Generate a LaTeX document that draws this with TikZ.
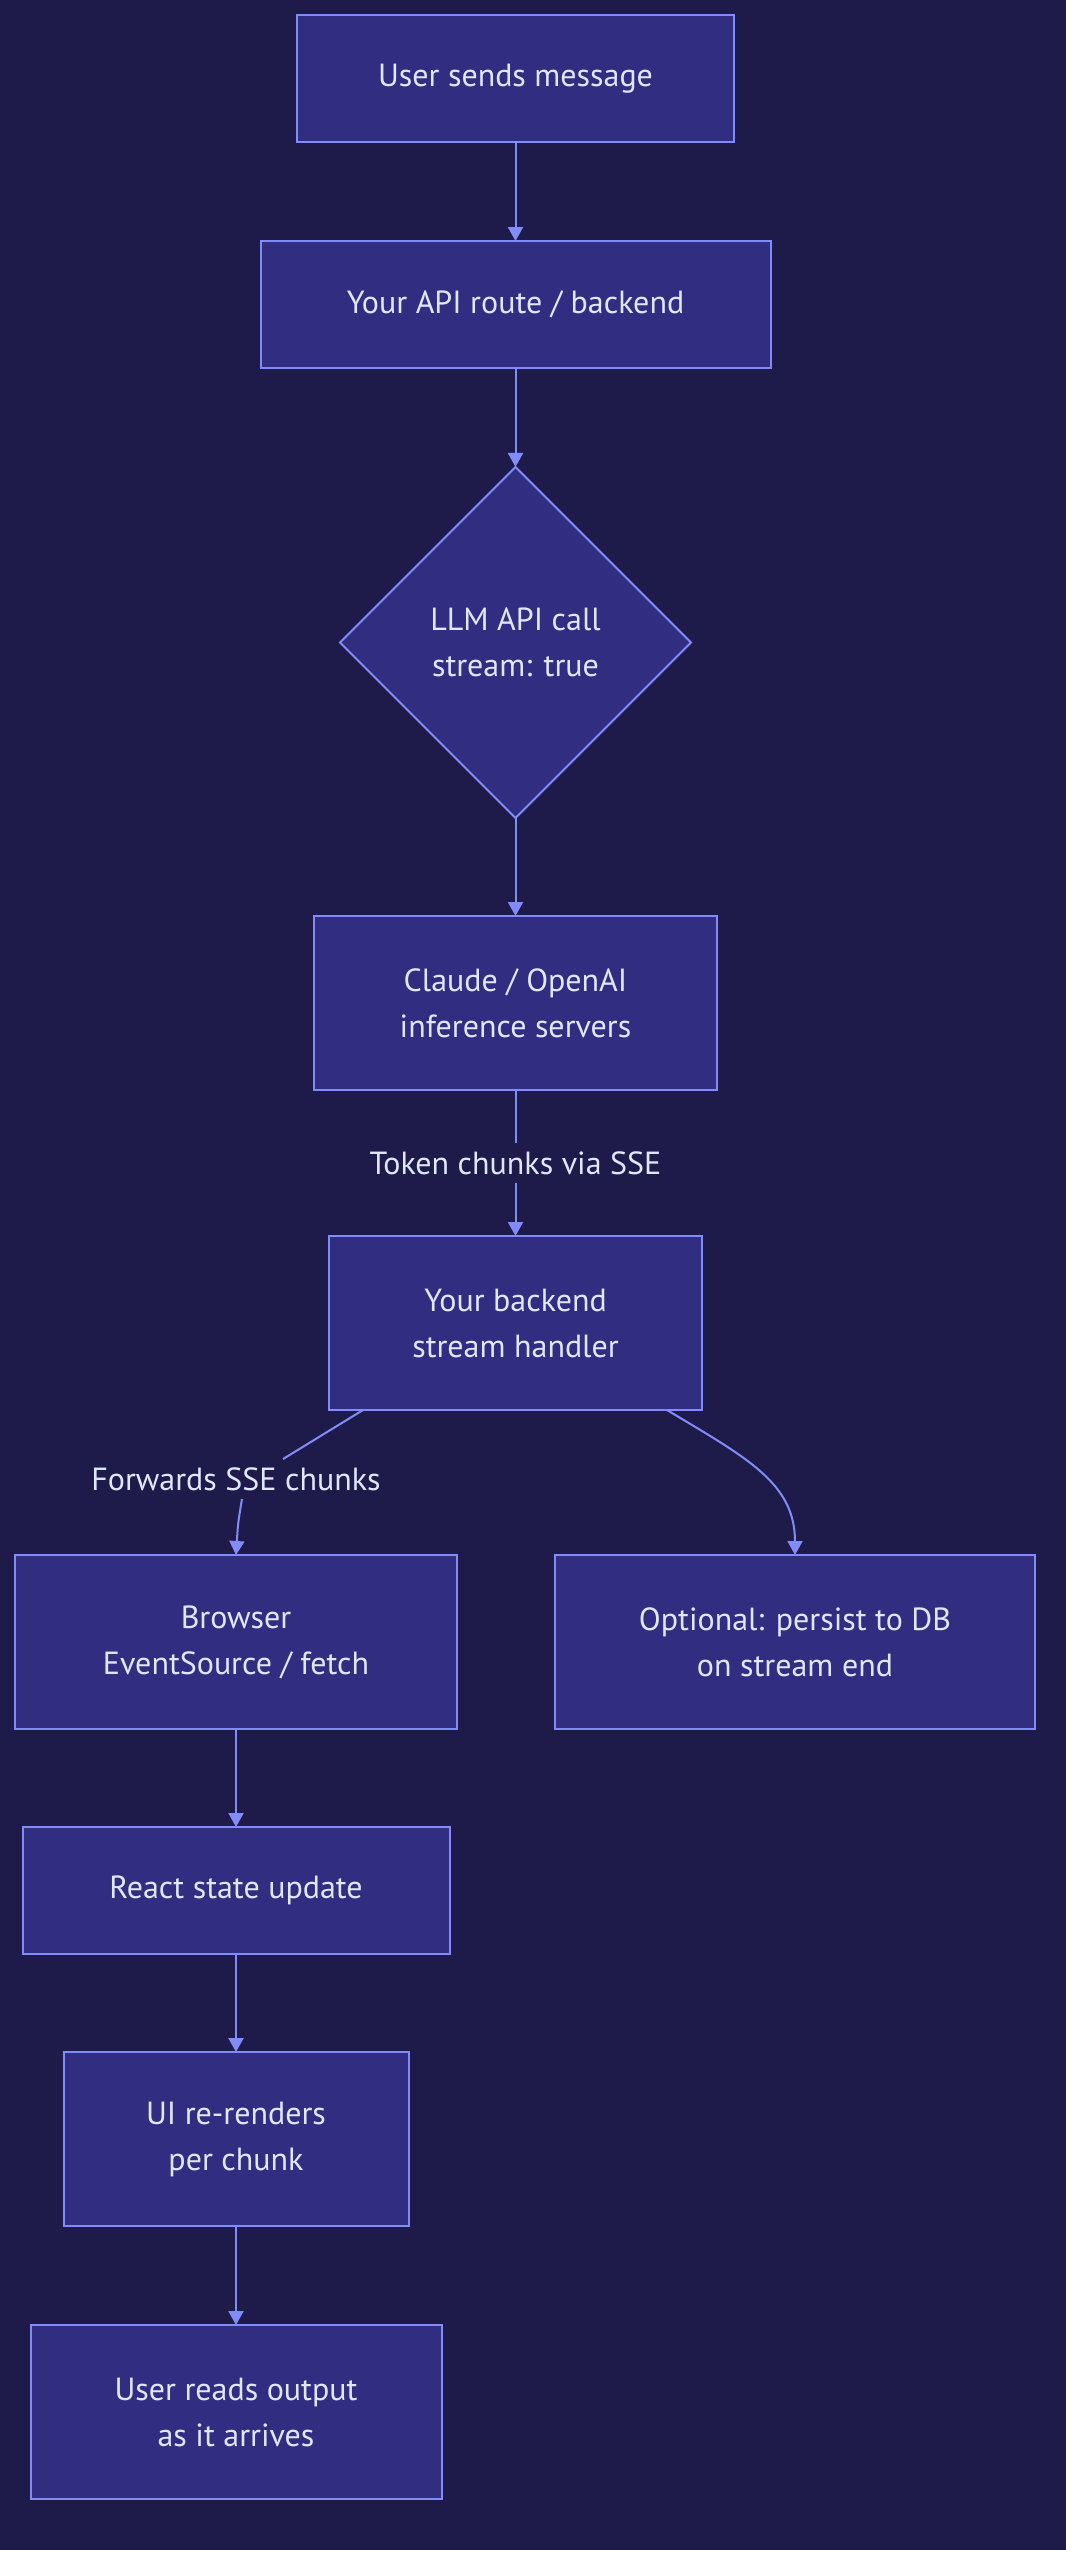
\documentclass[tikz,border=0pt]{standalone}
\usepackage{fontspec}
\setmainfont{PT Sans}
\usetikzlibrary{arrows.meta, positioning, calc, shapes.geometric}
\definecolor{NightBg}{HTML}{1E1B4B}
\definecolor{BoxFill}{HTML}{312E81}
\definecolor{BoxLine}{HTML}{818CF8}
\definecolor{PaleText}{HTML}{E0E7FF}
\tikzset{
  flowbox/.style={draw=BoxLine, line width=1pt, fill=BoxFill, align=center, minimum height=63.5pt, inner sep=4pt, outer sep=0pt, text=PaleText, font=\fontsize{16pt}{23pt}\selectfont},
  tallbox/.style={flowbox, minimum height=87pt},
  decision/.style={diamond, draw=BoxLine, line width=1pt, fill=BoxFill, align=center, minimum width=175.5pt, minimum height=175.5pt, inner sep=0pt, outer sep=0pt, text=PaleText, font=\fontsize{16pt}{23pt}\selectfont},
  edgelabel/.style={fill=NightBg, inner xsep=3pt, inner ysep=4pt, text=PaleText, font=\fontsize{16pt}{23pt}\selectfont},
  link/.style={line width=1pt, draw=BoxLine},
  arrow/.style={-{Triangle[length=7pt, width=7.5pt]}, line width=1pt, draw=BoxLine}
}
\begin{document}
\begin{tikzpicture}
\fill[NightBg] (0,0) rectangle (533pt,-1275pt);
\useasboundingbox (0,0) rectangle (533pt,-1275pt);
\node[flowbox, minimum width=218.5pt] (user) at (257.75pt,-39.25pt) {User sends message};
\node[flowbox, minimum width=255pt, below=49.5pt of user] (route) {Your API route / backend};
\node[decision, below=49.5pt of route] (llm) {LLM API call\\stream: true};
\node[tallbox, minimum width=201.5pt, below=49pt of llm] (infer) {Claude / OpenAI\\inference servers};
\node[tallbox, minimum width=186.5pt, below=73pt of infer] (handler) {Your backend\\stream handler};
\node[tallbox, minimum width=221pt, below=72.5pt of handler, xshift=-139.75pt] (browser) {Browser\\EventSource / fetch};
\node[tallbox, minimum width=240pt, below=72.5pt of handler, xshift=139.75pt] (persist) {Optional: persist to DB\\on stream end};
\node[flowbox, minimum width=213.5pt, below=49pt of browser] (react) {React state update};
\node[tallbox, minimum width=172.5pt, below=49pt of react] (render) {UI re-renders\\per chunk};
\node[tallbox, minimum width=205.5pt, below=49.5pt of render] (reads) {User reads output\\as it arrives};
\node[edgelabel] (fwd) at (118pt,-739.5pt) {Forwards SSE chunks};

\draw[arrow] (user) -- (route);
\draw[arrow] (route) -- (llm);
\draw[arrow] (llm) -- (infer);
\draw[arrow] (infer) -- node[edgelabel] {Token chunks via SSE} (handler);
\draw[link] ([xshift=17pt]handler.south west) -- ([xshift=23.5pt]fwd.north);
\draw[arrow] ([xshift=3pt]fwd.south) .. controls +(-2pt,-12pt) .. (browser.north);
\draw[arrow] ([xshift=-17.5pt]handler.south east) .. controls +(40pt,-24pt) and +(0pt,36pt) .. (persist.north);
\draw[arrow] (browser) -- (react);
\draw[arrow] (react) -- (render);
\draw[arrow] (render) -- (reads);
\end{tikzpicture}
\end{document}
